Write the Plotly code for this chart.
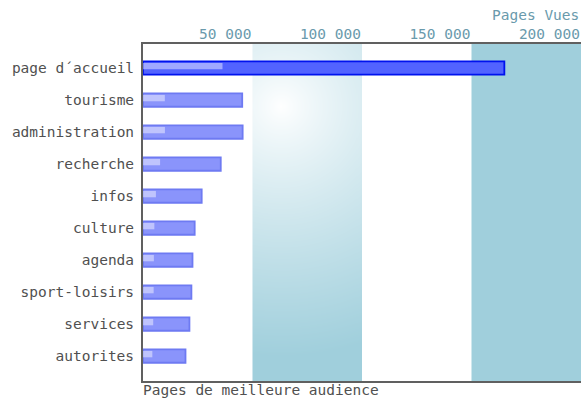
import base64
import struct
import zlib

import plotly.graph_objects as go

# ---- data -------------------------------------------------------------
categories = ["page d\u00b4accueil", "tourisme", "administration", "recherche", "infos",
              "culture", "agenda", "sport-loisirs", "services", "autorites"]
pages_vues = [165000, 45300, 45500, 35500, 26800, 23600, 22600, 22100, 21200, 19400]
tick_values = [50000, 100000, 150000, 200000]
tick_labels = ["50 000", "100 000", "150 000", "200 000"]
axis_title = "Pages Vues"
chart_title = "Pages de meilleure audience"

# ---- style ------------------------------------------------------------
FONT = "DejaVu Sans Mono"
FS = 14.5
BAND = (160, 207, 220)
BAND_HEX = "#a0cfdc"
TICK_COLOR = "#6a9aac"
LABEL_COLOR = "#505050"
AXIS_COLOR = "#606060"


def gradient_png(w, h, cx, cy, radius):
    rows = []
    for y in range(h):
        row = bytearray([0])
        for x in range(w):
            d = ((x - cx) ** 2 + (y - cy) ** 2) ** 0.5
            t = min(1.0, d / radius) ** 0.85
            for c in BAND:
                row.append(int(round(255 * (1 - t) + c * t)))
        rows.append(bytes(row))
    raw = b"".join(rows)

    def chunk(tag, data):
        c = struct.pack(">I", len(data)) + tag + data
        return c + struct.pack(">I", zlib.crc32(tag + data) & 0xFFFFFFFF)

    png = b"\x89PNG\r\n\x1a\n"
    png += chunk(b"IHDR", struct.pack(">IIBBBBB", w, h, 8, 2, 0, 0, 0))
    png += chunk(b"IDAT", zlib.compress(raw, 9))
    png += chunk(b"IEND", b"")
    return "data:image/png;base64," + base64.b64encode(png).decode()


grad = gradient_png(108, 337, 28, 62, 250)

bar_fill = ["#5263ff" if i == 0 else "#8a94fb" for i in range(len(categories))]
bar_line = ["#0012ee" if i == 0 else "#6e7af2" for i in range(len(categories))]

fig = go.Figure()
fig.add_trace(go.Bar(
    y=categories, x=pages_vues, orientation="h", width=0.42,
    marker=dict(color=bar_fill, line=dict(color=bar_line, width=1.8)),
    hoverinfo="x+y", showlegend=False,
))
# glossy highlight on the left part of each bar
fig.add_trace(go.Bar(
    y=categories, x=[v * 0.22 for v in pages_vues], orientation="h", width=0.2,
    offset=-0.16,
    marker=dict(color="rgba(255,255,255,0.45)", line=dict(width=0)),
    hoverinfo="skip", showlegend=False,
))

fig.update_layout(
    width=581, height=401,
    margin=dict(l=143, r=0, t=44, b=20, autoexpand=False),
    paper_bgcolor="white", plot_bgcolor="white",
    barmode="overlay",
    font=dict(family=FONT, size=FS, color=LABEL_COLOR),
    xaxis=dict(
        side="top", range=[0, 200000], tickvals=tick_values, ticktext=tick_labels,
        ticklabelposition="outside left", ticks="", showgrid=False, zeroline=False,
        tickfont=dict(family=FONT, size=FS, color=TICK_COLOR), automargin=False,
        ticklabelstandoff=-3,
        showline=True, linecolor=AXIS_COLOR, linewidth=2, mirror=True,
    ),
    yaxis=dict(
        type="category", categoryorder="array", categoryarray=categories,
        range=[9.78, -0.75], ticks="", showgrid=False, zeroline=False,
        tickfont=dict(family=FONT, size=FS, color=LABEL_COLOR), automargin=False,
        ticklabelstandoff=4,
        showline=True, linecolor=AXIS_COLOR, linewidth=2,
    ),
    shapes=[
        dict(type="rect", xref="x", yref="paper", x0=150000, x1=200000, y0=0, y1=1,
             fillcolor=BAND_HEX, line=dict(width=0), layer="below"),
    ],
    images=[
        dict(source=grad, xref="x", yref="paper", x=50000, y=1, sizex=50000, sizey=1,
             sizing="stretch", xanchor="left", yanchor="top", layer="below"),
    ],
    annotations=[
        dict(text=axis_title, xref="paper", yref="paper", x=1, y=1, xanchor="right",
             yanchor="bottom", yshift=19, showarrow=False,
             font=dict(family=FONT, size=FS, color=TICK_COLOR)),
        dict(text=chart_title, xref="paper", yref="paper", x=0, y=0, xanchor="left",
             yanchor="top", yshift=1, xshift=-2, showarrow=False,
             font=dict(family=FONT, size=FS, color=LABEL_COLOR)),
    ],
)

fig.write_html("out.html", config={"displayModeBar": False},
               post_script="document.body.style.margin='0';")
